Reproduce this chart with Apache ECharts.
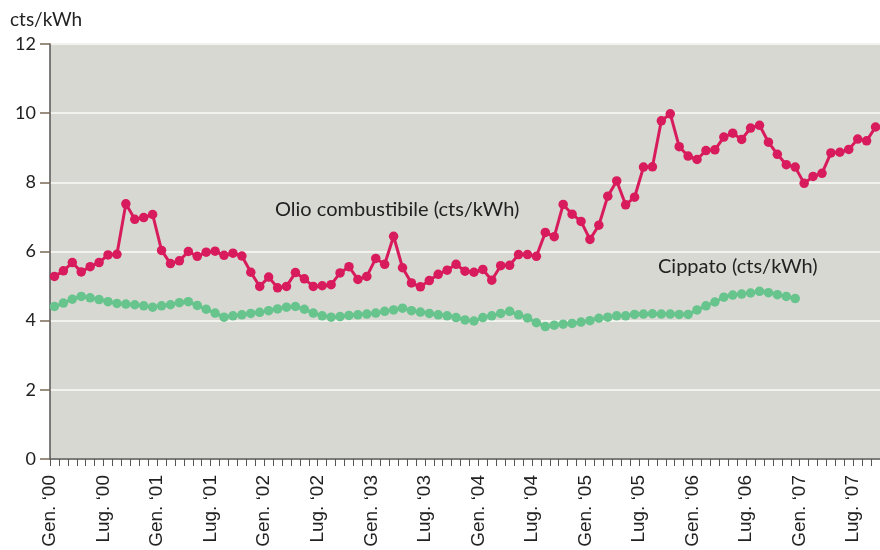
<!DOCTYPE html>
<html>
<head>
<meta charset="utf-8">
<script src="https://cdn.jsdelivr.net/npm/echarts@6/dist/echarts.min.js"></script>
<style>html,body{margin:0;padding:0;background:#fff;}#c{width:880px;height:550px;}</style>
</head>
<body>
<div id="c"></div>
<script>
// Monthly tick labels (every 6 months, starting Gen. '00)
const tickLabels = ["Gen. \u201800","Lug. \u201800","Gen. \u201801","Lug. \u201801","Gen. \u201802","Lug. \u201802","Gen. \u201803","Lug. \u201803","Gen. \u201804","Lug. \u201804","Gen. \u201805","Lug. \u201805","Gen. \u201806","Lug. \u201806","Gen. \u201807","Lug. \u201807"];
const monthCount = 93; // Jan 2000 .. Sep 2007

// Olio combustibile (cts/kWh), monthly from Jan 2000
const olio = [5.28,5.44,5.68,5.41,5.56,5.68,5.90,5.92,7.38,6.93,6.98,7.07,
  6.03,5.65,5.73,6.00,5.86,5.98,6.01,5.89,5.95,5.87,5.40,4.99,
  5.26,4.95,4.99,5.39,5.21,4.99,5.01,5.04,5.38,5.56,5.19,5.28,
  5.80,5.63,6.44,5.53,5.09,4.98,5.16,5.34,5.46,5.63,5.43,5.40,
  5.48,5.17,5.59,5.60,5.91,5.91,5.86,6.55,6.43,7.36,7.08,6.87,
  6.35,6.76,7.60,8.04,7.35,7.57,8.44,8.45,9.78,9.98,9.03,8.76,
  8.66,8.92,8.94,9.31,9.42,9.24,9.57,9.65,9.16,8.81,8.51,8.44,
  7.97,8.17,8.26,8.85,8.87,8.95,9.25,9.20,9.60];

// Cippato (cts/kWh), monthly from Jan 2000
const cippato = [4.41,4.51,4.62,4.70,4.66,4.61,4.55,4.50,4.48,4.46,4.43,4.39,
  4.43,4.46,4.52,4.55,4.44,4.33,4.22,4.10,4.14,4.17,4.21,4.24,
  4.29,4.34,4.39,4.41,4.33,4.22,4.14,4.10,4.12,4.15,4.17,4.19,
  4.22,4.27,4.31,4.36,4.29,4.25,4.21,4.17,4.14,4.09,4.02,3.99,
  4.09,4.14,4.21,4.27,4.17,4.08,3.94,3.83,3.87,3.90,3.92,3.96,
  4.00,4.07,4.10,4.14,4.14,4.18,4.19,4.20,4.19,4.19,4.18,4.18,
  4.31,4.43,4.54,4.68,4.74,4.77,4.80,4.85,4.81,4.75,4.70,4.64];

const toPts = arr => arr.map((v, i) => [i + 0.5, v]);

const chart = echarts.init(document.getElementById('c'));
chart.setOption({
  animation: false,
  backgroundColor: '#ffffff',
  grid: { left: 50, right: 0, top: 44, bottom: 91, show: true, backgroundColor: '#d8d8d2', borderWidth: 0 },
  xAxis: {
    type: 'value', min: 0, max: monthCount, interval: 1,
    axisLine: { show: true, lineStyle: { color: '#555', width: 1.5 } },
    axisTick: { show: true, length: 7, lineStyle: { color: '#555', width: 1 } },
    axisLabel: {
      rotate: 90, margin: 16, fontSize: 19, color: '#222', fontFamily: 'Liberation Sans, Arial, sans-serif',
      formatter: v => (v % 6 === 0 && tickLabels[v / 6]) ? tickLabels[v / 6] : ''
    },
    splitLine: { show: false }
  },
  yAxis: {
    type: 'value', min: 0, max: 12, interval: 2,
    axisLine: { show: true, lineStyle: { color: '#555', width: 1.5 } },
    axisTick: { show: true, length: 10, lineStyle: { color: '#7a6a55', width: 1.5 } },
    axisLabel: { fontSize: 18, color: '#222', margin: 14, fontFamily: 'Lato, sans-serif' },
    splitLine: { show: true, lineStyle: { color: '#f2f2ee', width: 2 } }
  },
  series: [
    {
      name: 'Olio combustibile', type: 'line', data: toPts(olio),
      symbol: 'circle', symbolSize: 9.5, showAllSymbol: true,
      lineStyle: { color: '#d81b5c', width: 3 },
      itemStyle: { color: '#d81b5c' }, z: 3
    },
    {
      name: 'Cippato', type: 'line', data: toPts(cippato),
      symbol: 'circle', symbolSize: 9.5, showAllSymbol: true,
      lineStyle: { color: '#66c48c', width: 3 },
      itemStyle: { color: '#66c48c' }, z: 2
    }
  ],
  graphic: [
    { type: 'text', left: 10, top: 10, style: { text: 'cts/kWh', fontSize: 19, fill: '#222', fontFamily: 'Lato, sans-serif' } },
    { type: 'text', left: 275, top: 200, style: { text: 'Olio combustibile (cts/kWh)', fontSize: 20, fill: '#222', fontFamily: 'Lato, sans-serif' } },
    { type: 'text', left: 658, top: 257, style: { text: 'Cippato (cts/kWh)', fontSize: 20, fill: '#222', fontFamily: 'Lato, sans-serif' } }
  ]
});
</script>
</body>
</html>
